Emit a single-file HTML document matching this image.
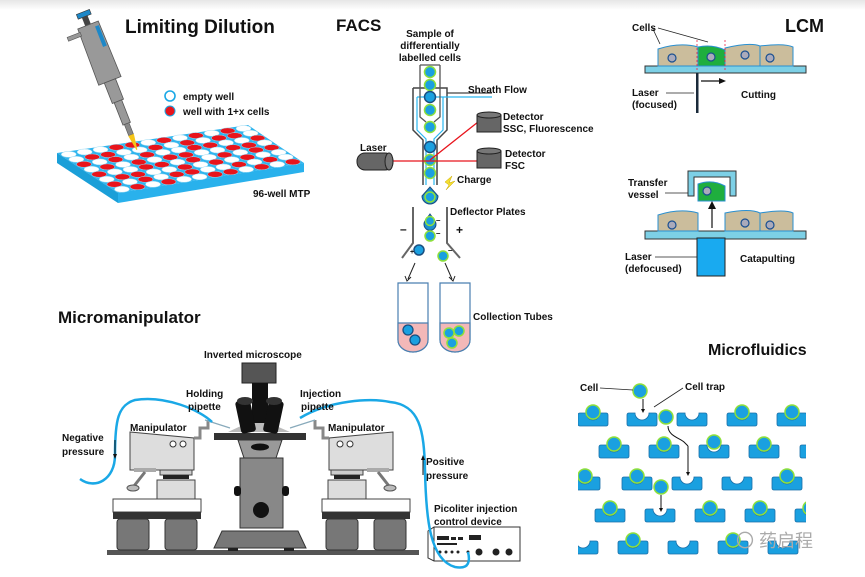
<!DOCTYPE html>
<html><head><meta charset="utf-8"><style>
html,body{margin:0;padding:0;background:#fff}
svg{display:block}
text{font-family:"Liberation Sans",Arial,sans-serif;font-weight:bold;fill:#111}
</style></head><body>
<svg id="s" width="865" height="577" viewBox="0 0 865 577" xmlns="http://www.w3.org/2000/svg">
<defs><linearGradient id="tg" x1="0" y1="0" x2="0" y2="1"><stop offset="0" stop-color="#e6e6e6"/><stop offset="1" stop-color="#fff"/></linearGradient></defs>
<rect width="865" height="577" fill="#fff"/>
<rect width="865" height="10" fill="url(#tg)"/>

<!-- Limiting dilution -->
<text x="125" y="33" font-size="19">Limiting Dilution</text>
<g id="plate">
<polygon points="57,153 248,125 304,163 118,193" fill="#2fb5ee"/>
<polygon points="57,153 118,193 118,203 57,163" fill="#1a9fd8"/>
<polygon points="118,193 304,163 304,172 118,203" fill="#29b1ec"/>
</g>
<g transform="translate(88,25) rotate(-21.4)">
<rect x="-7" y="-14" width="14" height="5" fill="#1e88c8" stroke="#333" stroke-width="0.6"/>
<rect x="-3" y="-9" width="6" height="9" fill="#444"/>
<polygon points="-11,0 11,0 12,60 -12,60" fill="#999" stroke="#555" stroke-width="0.8"/>
<rect x="-24" y="4" width="14" height="4" fill="#999" stroke="#555" stroke-width="0.6"/>
<rect x="6" y="4" width="4" height="22" fill="#1e88c8"/>
<rect x="-6" y="60" width="12" height="22" fill="#999" stroke="#555" stroke-width="0.8"/>
<rect x="-4" y="82" width="8" height="24" fill="#999" stroke="#555" stroke-width="0.8"/>
<rect x="-2.5" y="106" width="5" height="12" fill="#888" stroke="#555" stroke-width="0.6"/>
<polygon points="-3,118 3,118 0.5,134 -0.5,134" fill="#f5c518"/>
</g>
<circle cx="170" cy="96" r="5" fill="#fff" stroke="#1aa8e6" stroke-width="1.6"/>
<circle cx="170" cy="111" r="5" fill="#e8141c" stroke="#1aa8e6" stroke-width="1"/>
<text x="183" y="100" font-size="10">empty well</text>
<text x="183" y="115" font-size="10">well with 1+x cells</text>
<text x="253" y="197" font-size="10">96-well MTP</text>

<!-- FACS -->
<text x="336" y="31" font-size="17">FACS</text>
<text x="430" y="37" font-size="10" text-anchor="middle">Sample of</text>
<text x="430" y="49" font-size="10" text-anchor="middle">differentially</text>
<text x="430" y="61" font-size="10" text-anchor="middle">labelled cells</text>
<path d="M413,88 L447,88 L447,130 L437,140 L437,185 M413,88 L413,130 L423,140 L423,185" fill="none" stroke="#444" stroke-width="1.5"/>
<path d="M447,93 L492,93" stroke="#444" stroke-width="1.2"/>
<path d="M417,97 L417,130 L426,139 L426,185 M443,97 L443,130 L434,139 L434,185 M417,97 L492,97" fill="none" stroke="#2ab7f0" stroke-width="1.2"/>
<path d="M420,65 L420,117 L426,122 M440,65 L440,117 L434,122 M420,65 L440,65" fill="none" stroke="#555" stroke-width="1.3"/>
<g stroke-width="1.5">
<circle cx="430" cy="72" r="5.5" fill="#1aa0e0" stroke="#8ee03a"/>
<circle cx="430" cy="85" r="5.5" fill="#1aa0e0" stroke="#8ee03a"/>
<circle cx="430" cy="97" r="5.5" fill="#1aa0e0" stroke="#1a4f80"/>
<circle cx="430" cy="110" r="5.5" fill="#1aa0e0" stroke="#8ee03a"/>
<circle cx="430" cy="127" r="5.5" fill="#1aa0e0" stroke="#8ee03a"/>
<circle cx="430" cy="147" r="5.5" fill="#1aa0e0" stroke="#1a4f80"/>
<circle cx="430" cy="160" r="5.5" fill="#1aa0e0" stroke="#8ee03a"/>
<circle cx="430" cy="173" r="5.5" fill="#1aa0e0" stroke="#8ee03a"/>
</g>
<path d="M430,187 L438,196 A8,8 0 1 1 422,196 Z" fill="#1a8fd0" stroke="#1a4f80"/>
<circle cx="430" cy="197" r="5" fill="#1aa0e0" stroke="#8ee03a" stroke-width="1.5"/>
<polygon points="445,182 452,176 449,183 455,181 446,190 449,185" fill="#f5e030" stroke="#c9a800" stroke-width="0.5"/>
<path d="M357,161 L478,161 M430,160 L478,122" stroke="#e8141c" stroke-width="1.3"/>
<rect x="357" y="153" width="36" height="17" rx="8" fill="#666" stroke="#222"/>
<ellipse cx="389" cy="161.5" rx="4" ry="8.5" fill="#777" stroke="#222"/>
<rect x="477" y="115" width="24" height="17" fill="#666" stroke="#222"/>
<ellipse cx="489" cy="115" rx="12" ry="3" fill="#777" stroke="#222"/>
<rect x="477" y="151" width="24" height="17" fill="#666" stroke="#222"/>
<ellipse cx="489" cy="151" rx="12" ry="3" fill="#777" stroke="#222"/>
<text x="468" y="93" font-size="10">Sheath Flow</text>
<text x="503" y="120" font-size="10">Detector</text>
<text x="503" y="132" font-size="10">SSC, Fluorescence</text>
<text x="505" y="157" font-size="10">Detector</text>
<text x="505" y="169" font-size="10">FSC</text>
<text x="360" y="151" font-size="10">Laser</text>
<text x="457" y="183" font-size="10">Charge</text>
<text x="450" y="215" font-size="10">Deflector Plates</text>
<text x="400" y="233" font-size="12">–</text>
<text x="456" y="234" font-size="12">+</text>
<path d="M413,207 L413,243 L402,258 M447,207 L447,243 L460,258" fill="none" stroke="#666" stroke-width="2"/>
<path d="M430,214 L435,221 A6,6 0 1 1 425,221 Z" fill="#1a8fd0" stroke="#1a4f80"/>
<circle cx="430" cy="221" r="4.5" fill="#1aa0e0" stroke="#8ee03a" stroke-width="1.5"/>
<circle cx="430" cy="236" r="5" fill="#1aa0e0" stroke="#8ee03a" stroke-width="1.5"/>
<circle cx="419" cy="250" r="5" fill="#1aa0e0" stroke="#1a4f80" stroke-width="1.5"/>
<circle cx="443" cy="256" r="5" fill="#1aa0e0" stroke="#8ee03a" stroke-width="1.5"/>
<text x="436" y="223" font-size="8">–</text><text x="436" y="236" font-size="8">–</text><text x="448" y="253" font-size="8">–</text><text x="410" y="254" font-size="7">+</text>
<path d="M415,263 L408,279 M445,263 L452,279" stroke="#222" stroke-width="1"/>
<path d="M405,276 L407,281 L411,277 M449,277 L453,281 L455,276" fill="none" stroke="#222"/>
<path d="M398,283 L398,340 A15,12 0 0 0 428,340 L428,283 Z" fill="#fff" stroke="#4a7fb0" stroke-width="1.2"/>
<path d="M398,323 L428,323 L428,340 A15,12 0 0 1 398,340 Z" fill="#f3b8b8" stroke="#4a7fb0" stroke-width="1.2"/>
<path d="M440,283 L440,340 A15,12 0 0 0 470,340 L470,283 Z" fill="#fff" stroke="#4a7fb0" stroke-width="1.2"/>
<path d="M440,323 L470,323 L470,340 A15,12 0 0 1 440,340 Z" fill="#f3b8b8" stroke="#4a7fb0" stroke-width="1.2"/>
<circle cx="408" cy="330" r="5" fill="#1aa0e0" stroke="#1a4f80" stroke-width="1.3"/>
<circle cx="415" cy="340" r="5" fill="#1aa0e0" stroke="#1a4f80" stroke-width="1.3"/>
<circle cx="449" cy="333" r="5" fill="#1aa0e0" stroke="#8ee03a" stroke-width="1.5"/>
<circle cx="459" cy="331" r="5" fill="#1aa0e0" stroke="#8ee03a" stroke-width="1.5"/>
<circle cx="452" cy="343" r="5" fill="#1aa0e0" stroke="#8ee03a" stroke-width="1.5"/>
<text x="473" y="320" font-size="10">Collection Tubes</text>

<!-- LCM -->
<text x="785" y="32" font-size="18">LCM</text>
<rect x="645" y="66" width="161" height="7" fill="#7dd0e6" stroke="#333"/>
<path d="M658,66 L658,49 Q680,42 698,47 L698,66 Z M725,66 L725,48 Q750,42 760,46 L760,66 Z M760,66 L760,46 Q785,43 793,47 L793,66 Z" fill="#cbbd9c" stroke="#2a8fd0" stroke-width="1"/>
<path d="M698,47 Q712,44 725,50 L725,66 L698,66 Z" fill="#1fae3e" stroke="#2a8fd0"/>
<path d="M697,40 L697,70 M725,40 L725,70" stroke="#e24" stroke-width="0.8" stroke-dasharray="2,2"/>
<g fill="#aab" stroke="#1a4f90" stroke-width="1.2"><circle cx="672" cy="58" r="4"/><circle cx="711" cy="57" r="4"/><circle cx="745" cy="55" r="4"/><circle cx="770" cy="58" r="4"/></g>
<path d="M652,27 L660,44 M658,28 L708,42" stroke="#222" stroke-width="0.8"/>
<rect x="696" y="73" width="2.5" height="40" fill="#1a2a3a"/>
<path d="M701,81 L720,81" stroke="#111" stroke-width="1.2"/><polygon points="719,78 726,81 719,84" fill="#111"/>
<text x="632" y="31" font-size="10">Cells</text>
<text x="632" y="96" font-size="10">Laser</text>
<text x="632" y="108" font-size="10">(focused)</text>
<path d="M666,93 L694,93" stroke="#222" stroke-width="0.8"/>
<text x="741" y="98" font-size="10">Cutting</text>
<rect x="645" y="231" width="161" height="8" fill="#7dd0e6" stroke="#333"/>
<path d="M658,231 L658,215 Q680,208 698,213 L698,231 Z M725,231 L725,213 Q750,208 760,213 L760,231 Z M760,231 L760,213 Q785,209 793,213 L793,231 Z" fill="#cbbd9c" stroke="#2a8fd0"/>
<g fill="#aab" stroke="#1a4f90" stroke-width="1.2"><circle cx="672" cy="225" r="4"/><circle cx="745" cy="223" r="4"/><circle cx="770" cy="225" r="4"/><circle cx="707" cy="191" r="4"/></g>
<path d="M688,196 L688,171 L736,171 L736,196 L730,196 L730,177 L694,177 L694,196 Z" fill="#7dd0e6" stroke="#333"/>
<path d="M698,184 Q712,179 725,186 L725,201 L698,201 Z" fill="#1fae3e" stroke="#2a8fd0"/>
<circle cx="707" cy="191" r="4" fill="#aab" stroke="#1a4f90" stroke-width="1.2"/>
<path d="M712,228 L712,208" stroke="#111" stroke-width="1.2"/><polygon points="708,209 712,201 716,209" fill="#111"/>
<rect x="697" y="238" width="28" height="38" fill="#19aaf0" stroke="#222"/>
<text x="628" y="186" font-size="10">Transfer</text>
<text x="628" y="198" font-size="10">vessel</text>
<path d="M665,193 L688,193" stroke="#222" stroke-width="0.8"/>
<text x="625" y="260" font-size="10">Laser</text>
<text x="625" y="272" font-size="10">(defocused)</text>
<path d="M655,257 L697,257" stroke="#222" stroke-width="0.8"/>
<text x="740" y="262" font-size="10">Catapulting</text>

<!-- Micromanipulator -->
<text x="58" y="323" font-size="17">Micromanipulator</text>
<rect x="107" y="550" width="312" height="5" fill="#555"/>
<!-- left manipulator -->
<g id="manip">
<polygon points="130,432 194,438 194,470 130,470" fill="#ddd" stroke="#444"/>
<circle cx="173" cy="444" r="3" fill="#fff" stroke="#333"/><circle cx="183" cy="444" r="3" fill="#fff" stroke="#333"/>
<rect x="134" y="468" width="22" height="4" fill="#aaa"/>
<path d="M145,472 L134,486" stroke="#777" stroke-width="3"/><ellipse cx="133" cy="488" rx="6" ry="3" fill="#bbb" stroke="#555"/>
<rect x="160" y="470" width="32" height="5" fill="#ccc" stroke="#444"/>
<rect x="163" y="475" width="26" height="4" fill="#222"/>
<rect x="157" y="480" width="38" height="27" fill="#ddd" stroke="#444"/>
<rect x="113" y="499" width="88" height="13" fill="#fff" stroke="#444"/>
<rect x="113" y="512" width="88" height="7" fill="#333"/>
<rect x="117" y="519" width="32" height="31" rx="3" fill="#777" stroke="#333"/>
<rect x="165" y="519" width="32" height="31" rx="3" fill="#777" stroke="#333"/>
<path d="M194,438 L200,438 L200,428 L208,428 L208,420" fill="none" stroke="#888" stroke-width="3"/>
</g>
<use href="#manip" transform="translate(523,0) scale(-1,1)"/>
<!-- microscope -->
<polygon points="228,432 258,418 290,432" fill="#bbb"/>
<rect x="214" y="433" width="92" height="7" fill="#333"/>
<path d="M205,420 L230,428 M315,420 L290,428" stroke="#8ab" stroke-width="1.2"/>
<rect x="242" y="363" width="34" height="20" fill="#555" stroke="#222"/>
<rect x="252" y="383" width="16" height="40" fill="#111"/>
<rect x="238" y="400" width="15" height="33" rx="3" fill="#111" transform="rotate(-12 245 416)"/>
<rect x="266" y="400" width="15" height="33" rx="3" fill="#111" transform="rotate(12 273 416)"/>
<ellipse cx="245" cy="401" rx="8" ry="4" fill="#333"/><ellipse cx="274" cy="401" rx="8" ry="4" fill="#333"/>
<polygon points="238,440 282,440 276,458 244,458" fill="#999" stroke="#333"/>
<ellipse cx="260" cy="447" rx="9" ry="3.5" fill="#111"/>
<rect x="240" y="458" width="43" height="70" fill="#888" stroke="#333"/>
<rect x="234" y="486" width="7" height="10" rx="3" fill="#111"/><rect x="282" y="486" width="7" height="10" rx="3" fill="#111"/>
<circle cx="261" cy="510" r="9" fill="#111" stroke="#888" stroke-width="2"/>
<polygon points="222,531 298,531 306,548 214,548" fill="#777" stroke="#333"/>
<rect x="228" y="548" width="10" height="3" fill="#222"/><rect x="284" y="548" width="10" height="3" fill="#222"/>
<!-- device -->
<polygon points="428,531 434,527 520,527 520,561 434,561 428,558" fill="#fff" stroke="#333"/>
<path d="M434,527 L434,561" stroke="#333"/>
<rect x="437" y="536" width="12" height="4" fill="#222"/><rect x="451" y="537" width="5" height="3" fill="#222"/><rect x="458" y="537" width="5" height="3" fill="#222"/><rect x="469" y="535" width="12" height="5" fill="#222"/>
<rect x="437" y="543" width="20" height="2" fill="#222"/>
<g fill="#222"><circle cx="440" cy="552" r="1.5"/><circle cx="446" cy="552" r="1.5"/><circle cx="452" cy="552" r="1.5"/><circle cx="458" cy="552" r="1.5"/><circle cx="468" cy="552" r="1.5"/><circle cx="479" cy="552" r="3.5"/><circle cx="496" cy="552" r="3.5"/><circle cx="509" cy="552" r="3.5"/></g>
<path d="M80,479 C95,490 115,480 115,455 C115,420 118,405 135,400 C165,395 200,410 212,422" fill="none" stroke="#1aa8e6" stroke-width="2.5"/>
<path d="M300,418 C330,400 370,398 390,402 C420,405 424,430 425,470 C426,520 430,560 455,567 C470,570 470,560 468,552" fill="none" stroke="#1aa8e6" stroke-width="2.5"/>
<path d="M115,440 L115,456" stroke="#111"/><polygon points="113,454 115,459 117,454" fill="#111"/>
<path d="M423,475 L423,458" stroke="#111"/><polygon points="421,460 423,455 425,460" fill="#111"/>
<text x="204" y="358" font-size="10">Inverted microscope</text>
<text x="186" y="397" font-size="10">Holding</text>
<text x="188" y="410" font-size="10">pipette</text>
<text x="300" y="397" font-size="10">Injection</text>
<text x="301" y="410" font-size="10">pipette</text>
<text x="130" y="431" font-size="10">Manipulator</text>
<text x="328" y="431" font-size="10">Manipulator</text>
<text x="62" y="441" font-size="10">Negative</text>
<text x="62" y="455" font-size="10">pressure</text>
<text x="426" y="465" font-size="10">Positive</text>
<text x="426" y="479" font-size="10">pressure</text>
<text x="434" y="512" font-size="10">Picoliter injection</text>
<text x="434" y="525" font-size="10">control device</text>

<!-- Microfluidics -->
<text x="708" y="355" font-size="16">Microfluidics</text>
<g id="traps"></g>
<circle cx="640" cy="391" r="7" fill="#1aa0e0" stroke="#8ee03a" stroke-width="1.5"/>
<circle cx="666" cy="417" r="7" fill="#1aa0e0" stroke="#8ee03a" stroke-width="1.5"/>
<circle cx="661" cy="487" r="7" fill="#1aa0e0" stroke="#8ee03a" stroke-width="1.5"/>
<path d="M600,388 L633,390 M654,407 L683,388" stroke="#222" stroke-width="0.8"/>
<path d="M643,399 L643,410 M661,495 L661,509 M688,446 L688,473" stroke="#111" stroke-width="1"/>
<polygon points="641,409 643,413 645,409" fill="#111"/><polygon points="659,508 661,512 663,508" fill="#111"/><polygon points="686,472 688,476 690,472" fill="#111"/>
<path d="M668,426 C668,436 680,438 684,442 C688,446 688,446 688,446" fill="none" stroke="#111"/>
<text x="580" y="391" font-size="10">Cell</text>
<text x="685" y="390" font-size="10">Cell trap</text>
<text x="736" y="547" font-size="18" style="font-family:'Liberation Sans','Noto Sans CJK SC',sans-serif;font-weight:normal;fill:#aaa">〇 药启程</text>
</svg>
<script>
var NS="http://www.w3.org/2000/svg",s=document.getElementById('s');
function el(t,a,p){var e=document.createElementNS(NS,t);for(var k in a)e.setAttribute(k,a[k]);(p||s).appendChild(e);return e;}
// wells
var P=s.querySelector('#plate');
var A=[57,153],B=[248,125],C=[304,163],D=[118,193];
var red="000110101010 011001010110 101010011001 010101100110 100110101011 011001010100 101011001010 010100110101".split(' ');
for(var r=0;r<8;r++)for(var c=0;c<12;c++){var u=(c+0.5)/12,v=(r+0.5)/8;
var x=(1-u)*(1-v)*A[0]+u*(1-v)*B[0]+u*v*C[0]+(1-u)*v*D[0];
var y=(1-u)*(1-v)*A[1]+u*(1-v)*B[1]+u*v*C[1]+(1-u)*v*D[1];
el('ellipse',{cx:x,cy:y,rx:7.5,ry:3,fill:red[r][c]=='1'?'#e8141c':'#fff',stroke:'#9fdcf5','stroke-width':0.5},P);}
// traps
var T=s.querySelector('#traps');
var rows=[[413,[578,627,677,727,777],[1,0,0,1,1,1]],[445,[599,649,699,749,800],[1,1,2,1,1]],[477,[570,622,672,722,772],[1,1,0,0,1]],[509,[595,645,695,745,795],[1,0,1,1,1]],[541,[568,618,668,718,768],[0,1,0,1,0]]];
rows.forEach(function(R){R[1].forEach(function(x,i){var y=R[0];
el('path',{d:'M'+x+','+(y+2)+' Q'+x+','+y+' '+(x+2)+','+y+' L'+(x+8)+','+y+' A7,7 0 0 0 '+(x+22)+','+y+' L'+(x+28)+','+y+' Q'+(x+30)+','+y+' '+(x+30)+','+(y+2)+' L'+(x+30)+','+(y+11)+' Q'+(x+30)+','+(y+13)+' '+(x+28)+','+(y+13)+' L'+(x+2)+','+(y+13)+' Q'+x+','+(y+13)+' '+x+','+(y+11)+' Z',fill:'#1aa0e0',stroke:'#1a6fa8','stroke-width':0.8},T);
var f=R[2][i]; if(f){el('circle',{cx:x+15,cy:y-(f==2?3:1),r:7,fill:'#1aa0e0',stroke:'#8ee03a','stroke-width':1.5},T);}
});});
el('rect',{x:806,y:400,width:59,height:177,fill:'#fff'},T);
el('rect',{x:540,y:400,width:38,height:177,fill:'#fff'},T);
</script>
</body></html>
